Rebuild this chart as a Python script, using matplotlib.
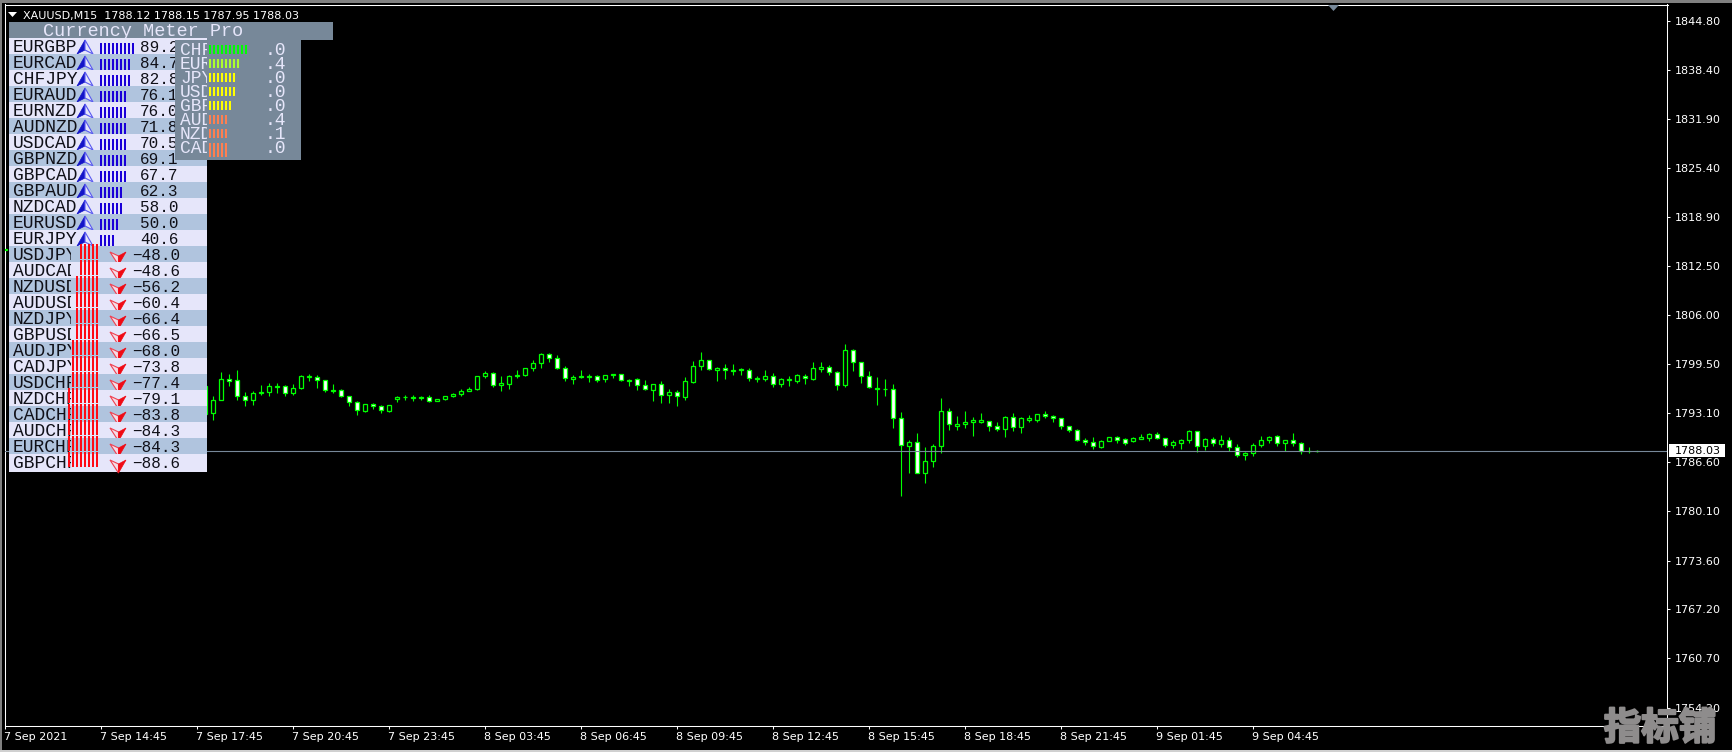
import matplotlib
matplotlib.use('Agg')
import matplotlib.pyplot as plt
import matplotlib.patheffects as pe
from matplotlib.patches import Rectangle, Polygon
from matplotlib.transforms import ScaledTranslation

# M15 candles. the first one is the stray bar left of the panel
opens = [1814.65,
    1793.00,1793.08,1794.76,1797.58,1797.45,1795.33,1794.76,1795.69,1795.82,1796.48,
    1796.66,1795.69,1796.35,1797.80,1797.85,1797.41,1796.00,1796.13,1795.33,1794.54,
    1793.39,1794.28,1794.01,1793.39,1794.89,1795.16,1795.11,1795.07,1795.20,1794.63,
    1794.94,1795.29,1795.55,1795.95,1796.22,1797.94,1798.38,1796.75,1796.97,1797.94,
    1798.11,1798.99,1799.66,1800.89,1800.36,1799.04,1797.63,1797.80,1797.89,1797.98,
    1797.54,1798.07,1798.24,1797.36,1797.58,1796.79,1796.08,1796.92,1795.42,1795.86,
    1795.25,1797.23,1799.26,1800.10,1798.82,1799.04,1798.60,1798.73,1798.77,1797.54,
    1797.54,1797.98,1796.88,1797.41,1797.36,1797.98,1797.63,1798.95,1799.17,1798.51,
    1796.75,1801.42,1799.83,1797.98,1796.22,1796.22,1796.26,1792.42,1788.67,1789.25,
    1785.10,1786.69,1788.67,1793.35,1791.41,1791.59,1791.85,1791.94,1792.03,1791.37,
    1790.92,1792.56,1791.19,1792.20,1792.20,1793.00,1792.69,1792.42,1791.37,1790.84,
    1789.47,1789.25,1788.54,1789.34,1789.91,1789.65,1789.34,1789.69,1789.82,1790.35,
    1789.78,1788.81,1789.16,1789.47,1790.70,1788.67,1789.65,1789.03,1789.51,1788.59,
    1787.48,1787.75,1788.81,1789.47,1790.04,1789.16,1789.51,1789.11,1788.06,1788.12]
closes = [1814.75,
    1796.70,1794.85,1797.58,1797.27,1795.29,1794.76,1795.73,1795.86,1796.66,1796.66,
    1795.69,1796.39,1797.98,1797.98,1797.41,1796.08,1796.13,1795.29,1794.50,1793.44,
    1794.28,1793.97,1793.44,1794.14,1795.20,1795.25,1795.20,1795.16,1794.63,1794.94,
    1795.33,1795.60,1796.00,1796.26,1797.98,1798.38,1796.75,1797.05,1797.98,1798.11,
    1799.04,1799.70,1800.89,1800.32,1799.04,1797.72,1797.89,1798.02,1798.02,1797.41,
    1798.11,1798.29,1797.41,1797.49,1796.75,1796.22,1796.92,1795.42,1795.86,1795.29,
    1797.36,1799.35,1800.10,1798.86,1799.08,1798.73,1798.82,1798.95,1797.67,1797.76,
    1797.98,1796.88,1797.58,1797.63,1798.11,1797.67,1799.04,1799.21,1798.47,1796.75,
    1801.42,1799.79,1797.94,1796.48,1796.39,1796.30,1792.38,1788.81,1789.25,1785.10,
    1786.73,1788.72,1793.35,1791.59,1791.67,1791.89,1792.20,1792.20,1791.32,1790.92,
    1792.56,1791.19,1792.42,1792.47,1792.95,1792.64,1792.38,1791.32,1790.79,1789.47,
    1789.20,1788.67,1789.38,1789.91,1789.47,1789.16,1789.78,1789.95,1790.35,1789.73,
    1788.81,1789.29,1789.51,1790.75,1788.67,1789.65,1789.07,1789.51,1788.54,1787.48,
    1787.79,1788.85,1789.51,1789.91,1789.16,1789.51,1789.07,1788.01,1788.10,1788.03]
highs = [1814.75,
    1796.70,1795.38,1798.55,1798.29,1798.82,1795.91,1796.04,1796.83,1797.05,1797.05,
    1796.83,1796.97,1798.16,1798.20,1798.16,1797.49,1796.97,1796.30,1795.38,1794.67,
    1794.32,1794.45,1794.19,1794.14,1795.38,1795.51,1795.51,1795.38,1795.51,1794.94,
    1795.38,1795.78,1796.30,1796.57,1798.02,1798.69,1798.55,1798.02,1798.16,1798.82,
    1799.08,1800.14,1801.07,1801.07,1800.80,1799.35,1798.16,1798.82,1798.29,1798.16,
    1798.16,1798.29,1798.29,1797.63,1797.76,1797.49,1796.97,1797.36,1796.30,1796.17,
    1797.89,1800.01,1801.20,1800.14,1799.21,1799.61,1799.61,1799.08,1799.08,1798.02,
    1798.82,1798.42,1797.76,1798.02,1798.29,1798.29,1799.88,1799.88,1799.48,1798.69,
    1802.13,1801.60,1799.88,1798.69,1797.89,1797.63,1796.97,1793.26,1789.56,1790.48,
    1788.63,1789.03,1795.11,1793.79,1792.73,1793.39,1792.56,1793.13,1792.07,1791.94,
    1792.73,1793.13,1792.60,1792.86,1793.00,1793.39,1792.86,1792.47,1791.41,1791.01,
    1789.82,1789.95,1789.51,1789.91,1790.09,1789.82,1789.95,1790.35,1790.48,1790.62,
    1789.82,1789.56,1789.69,1790.88,1790.75,1789.82,1789.95,1790.22,1789.95,1789.03,
    1787.97,1789.16,1790.09,1790.09,1790.22,1789.56,1790.48,1789.29,1788.63,1788.15]
lows = [1812.90,
    1793.00,1792.20,1794.76,1796.70,1794.85,1794.06,1794.19,1795.51,1795.38,1795.73,
    1795.38,1795.47,1796.30,1797.36,1796.44,1795.91,1795.73,1795.25,1794.06,1792.86,
    1793.26,1793.66,1793.13,1793.26,1794.58,1794.85,1794.72,1794.85,1794.50,1794.63,
    1794.76,1795.16,1795.29,1795.95,1796.17,1797.67,1796.57,1796.04,1796.30,1797.76,
    1797.98,1798.69,1799.08,1799.88,1798.91,1797.27,1796.97,1797.76,1797.23,1797.23,
    1797.23,1797.76,1797.27,1796.70,1796.17,1796.08,1794.72,1794.45,1794.45,1794.06,
    1794.85,1797.10,1798.82,1798.82,1797.36,1797.63,1798.16,1798.16,1797.36,1797.23,
    1797.36,1796.57,1796.57,1796.70,1797.10,1796.97,1797.49,1798.55,1798.16,1796.17,
    1796.57,1798.69,1797.10,1796.44,1794.19,1795.38,1791.14,1782.15,1785.19,1785.10,
    1783.87,1785.98,1787.84,1790.88,1790.88,1791.14,1790.09,1791.81,1790.75,1790.75,
    1789.95,1790.75,1790.48,1791.94,1791.94,1792.47,1791.94,1791.01,1790.62,1789.42,
    1788.90,1788.37,1788.50,1789.34,1789.16,1788.90,1789.29,1789.69,1789.42,1789.69,
    1788.63,1788.50,1788.37,1789.16,1787.97,1788.23,1788.76,1788.63,1788.10,1787.31,
    1786.91,1787.44,1788.63,1789.16,1788.76,1788.06,1788.76,1787.70,1787.84,1787.95]
bar_index = [0] + list(range(25, 165))

price_ticks = [1844.80, 1838.40, 1831.90, 1825.40, 1818.90, 1812.50, 1806.00, 1799.50,
               1793.10, 1786.60, 1780.10, 1773.60, 1767.20, 1760.70, 1754.20]
time_labels = ['7 Sep 2021', '7 Sep 14:45', '7 Sep 17:45', '7 Sep 20:45', '7 Sep 23:45',
               '8 Sep 03:45', '8 Sep 06:45', '8 Sep 09:45', '8 Sep 12:45', '8 Sep 15:45',
               '8 Sep 18:45', '8 Sep 21:45', '9 Sep 01:45', '9 Sep 04:45']
last_price = 1788.03

# currency meter panel
pairs_up = ['EURGBP', 'EURCAD', 'CHFJPY', 'EURAUD', 'EURNZD', 'AUDNZD', 'USDCAD',
            'GBPNZD', 'GBPCAD', 'GBPAUD', 'NZDCAD', 'EURUSD', 'EURJPY']
values_up = ['89.2', '84.7', '82.8', '76.1', '76.0', '71.8', '70.5',
             '69.1', '67.7', '62.3', '58.0', '50.0', '40.6']
bars_up = [9, 8, 8, 7, 7, 7, 7, 7, 7, 6, 6, 5, 4]
pairs_down = ['USDJPY', 'AUDCAD', 'NZDUSD', 'AUDUSD', 'NZDJPY', 'GBPUSD', 'AUDJPY',
              'CADJPY', 'USDCHF', 'NZDCHF', 'CADCHF', 'AUDCHF', 'EURCHF', 'GBPCHF']
values_down = ['-48.0', '-48.6', '-56.2', '-60.4', '-66.4', '-66.5', '-68.0',
               '-73.8', '-77.4', '-79.1', '-83.8', '-84.3', '-84.3', '-88.6']
bars_down = [5, 5, 6, 6, 6, 6, 7, 7, 7, 8, 8, 8, 8, 8]

currencies = ['CHF', 'EUR', 'JPY', 'USD', 'GBP', 'AUD', 'NZD', 'CAD']
currency_values = ['.0', '.4', '.0', '.0', '.0', '.4', '.1', '.0']
currency_bars = [10, 8, 7, 7, 6, 5, 5, 5]
currency_colors = ['#00ff00', '#adff2f', '#ffff00', '#ffff00', '#ffff00', '#ff7f50', '#ff7f50', '#ff7f50']

W, H = 1733, 752
GREEN = '#00ff00'
SLATE = '#778899'
AXIS_FONT = 'DejaVu Sans'
MONO = 'Liberation Mono'

fig = plt.figure(figsize=(W / 100, H / 100), dpi=100, facecolor='black')
left, right, top, bottom = 5, 1667.5, 4.5, 726
ax = fig.add_axes([left / W, (H - bottom) / H, (right - left) / W, (bottom - top) / H], facecolor='black')

# candles: wick first, body on top
for i, o, h, l, c in zip(bar_index, opens, highs, lows, closes):
    ax.vlines(i, l, h, color=GREEN, lw=0.8, zorder=2)
    ax.bar(i, abs(c - o), bottom=min(o, c), width=0.5, facecolor='white' if c < o else 'black',
           edgecolor=GREEN, lw=0.9, zorder=3)
ax.axhline(last_price, color=SLATE, lw=0.8, zorder=4)

ax.set_xlim(-0.04, 207.8)
ax.set_ylim(1751.76, 1847.02)
ax.yaxis.tick_right()
ax.set_yticks(price_ticks)
ax.set_yticklabels(['%.2f' % p for p in price_ticks], family=AXIS_FONT, fontsize=8, color='white')
ax.set_xticks([12 * k for k in range(len(time_labels))])
ax.set_xticklabels(time_labels, family=AXIS_FONT, fontsize=8, color='white', ha='left')
ax.tick_params(axis='y', length=2.5, width=0.75, color='white', pad=3)
ax.tick_params(axis='x', length=2.5, width=0.75, color='white', pad=1.5)
# labels start a pixel left of their tick
nudge = ScaledTranslation(-1 / 100, 0, fig.dpi_scale_trans)
for lbl in ax.get_xticklabels():
    lbl.set_transform(lbl.get_transform() + nudge)
for s in ax.spines.values():
    s.set_color('white')
    s.set_linewidth(0.75)

# everything else is laid out in screen pixels on a full-figure overlay
ov = fig.add_axes([0, 0, 1, 1], facecolor='none')
ov.set_xlim(0, W)
ov.set_ylim(H, 0)
ov.axis('off')

def box(x0, y0, x1, y1, color, z):
    ov.add_patch(Rectangle((x0, y0), x1 - x0, y1 - y0, facecolor=color, edgecolor='none', zorder=z))

# window edges
box(0, 0, W, 2.5, '#808080', 1)
box(0, 0, 2.5, H, '#808080', 1)
box(0, 750, W, H, '#d0d0d0', 1)

# chart header
ov.add_patch(Polygon([(8, 12), (17, 12), (12.5, 17)], facecolor='white', edgecolor='none', zorder=2))
ov.text(23, 15.5, 'XAUUSD,M15  1788.12 1788.15 1787.95 1788.03', family=AXIS_FONT, fontsize=8,
        color='white', va='center', zorder=2)
ov.add_patch(Polygon([(1328, 5), (1339, 5), (1333.5, 11)], facecolor=SLATE, edgecolor='none', zorder=2))

# last price tag
box(1669, 444, 1725, 457, 'white', 2)
ov.text(1675, 451, '%.2f' % last_price, family=AXIS_FONT, fontsize=8, color='black', va='center', zorder=3)

# meter rows
box(9, 22, 333, 40, SLATE, 5)
ov.text(43, 31, 'Currency Meter Pro', family=MONO, fontsize=13.3, color='#e6e6fa', va='center', zorder=6)

z = 10
for k, (pair, val, n) in enumerate(zip(pairs_up + pairs_down, values_up + values_down, bars_up + bars_down)):
    y0 = 38 + 16 * k
    y1 = y0 + (18 if k == 26 else 16)
    box(9, y0, 207, y1, '#e6e6fa' if k % 2 == 0 else '#b0c4de', z)
    t = ov.text(13, y0 + 10, pair, family=MONO, fontsize=13, color='#101018', va='center', zorder=z + 1)
    if k < len(pairs_up):
        for b in range(n):
            box(100 + 4 * b, y0 + 5, 102 + 4 * b, y0 + 16, '#1a00d8', z + 2)
        ov.add_patch(Polygon([(85, y0 + 2), (77, y0 + 16), (85, y0 + 12)], facecolor='#1414c8',
                             edgecolor='#1414c8', lw=0.5, zorder=z + 3))
        ov.add_patch(Polygon([(85, y0 + 2), (93, y0 + 16), (85, y0 + 12)], facecolor='#e6e6fa',
                             edgecolor='#5a5af0', lw=0.8, zorder=z + 3))
        ov.text(140, y0 + 9.5, val, family=MONO, fontsize=11.5, color='#101018', va='center', zorder=z + 1)
    else:
        # pair name is cut off where the red bars begin
        t.set_clip_on(True)
        t.set_clip_path(Rectangle((9, y0), 61.7, 16, transform=ov.transData))
        for b in range(n):
            box(96 - 4 * b, y0 - 2, 98 - 4 * b, y0 + 13, '#ff0a14', z + 2)
        ov.add_patch(Polygon([(110, y0 + 6), (118.5, y0 + 19), (118.5, y0 + 10)], facecolor='#f5dce6',
                             edgecolor='#f04050', lw=0.8, zorder=z + 3))
        ov.add_patch(Polygon([(126, y0 + 6), (118.5, y0 + 19), (118.5, y0 + 10)], facecolor='#f00a14',
                             edgecolor='#f00a14', lw=0.5, zorder=z + 3))
        ov.text(132, y0 + 9.5, val.replace('-', '\u2212'), family=MONO, fontsize=11.5, color='#101018',
                va='center', zorder=z + 1)
    z += 5

# currency strength box sits over the rows
box(175, 40, 301, 160, SLATE, 300)
for k, (cur, val, n, col) in enumerate(zip(currencies, currency_values, currency_bars, currency_colors)):
    yc = 49.7 + 14 * k
    t = ov.text(180, yc + 1, cur, family=MONO, fontsize=13, color='#e6e6fa', va='center', zorder=301)
    t.set_clip_on(True)
    t.set_clip_path(Rectangle((175, yc - 10), 32, 20, transform=ov.transData))
    ov.text(265, yc + 1, val, family=MONO, fontsize=13, color='#e6e6fa', va='center', zorder=301)
    h = 14 if cur == 'CAD' else 9
    for b in range(n):
        box(209 + 4 * b, yc - 4.5, 211 + 4 * b, yc - 4.5 + h, col, 302)

# site watermark
ov.text(1660, 728, '指标铺', family=['Noto Sans CJK SC', 'DejaVu Sans'], fontsize=27, weight='bold',
        color='#8e8c8c', ha='center', va='center', zorder=400,
        path_effects=[pe.withStroke(linewidth=1.5, foreground='#8e8c8c')])

fig.savefig('out.png', dpi=100, facecolor='black')
